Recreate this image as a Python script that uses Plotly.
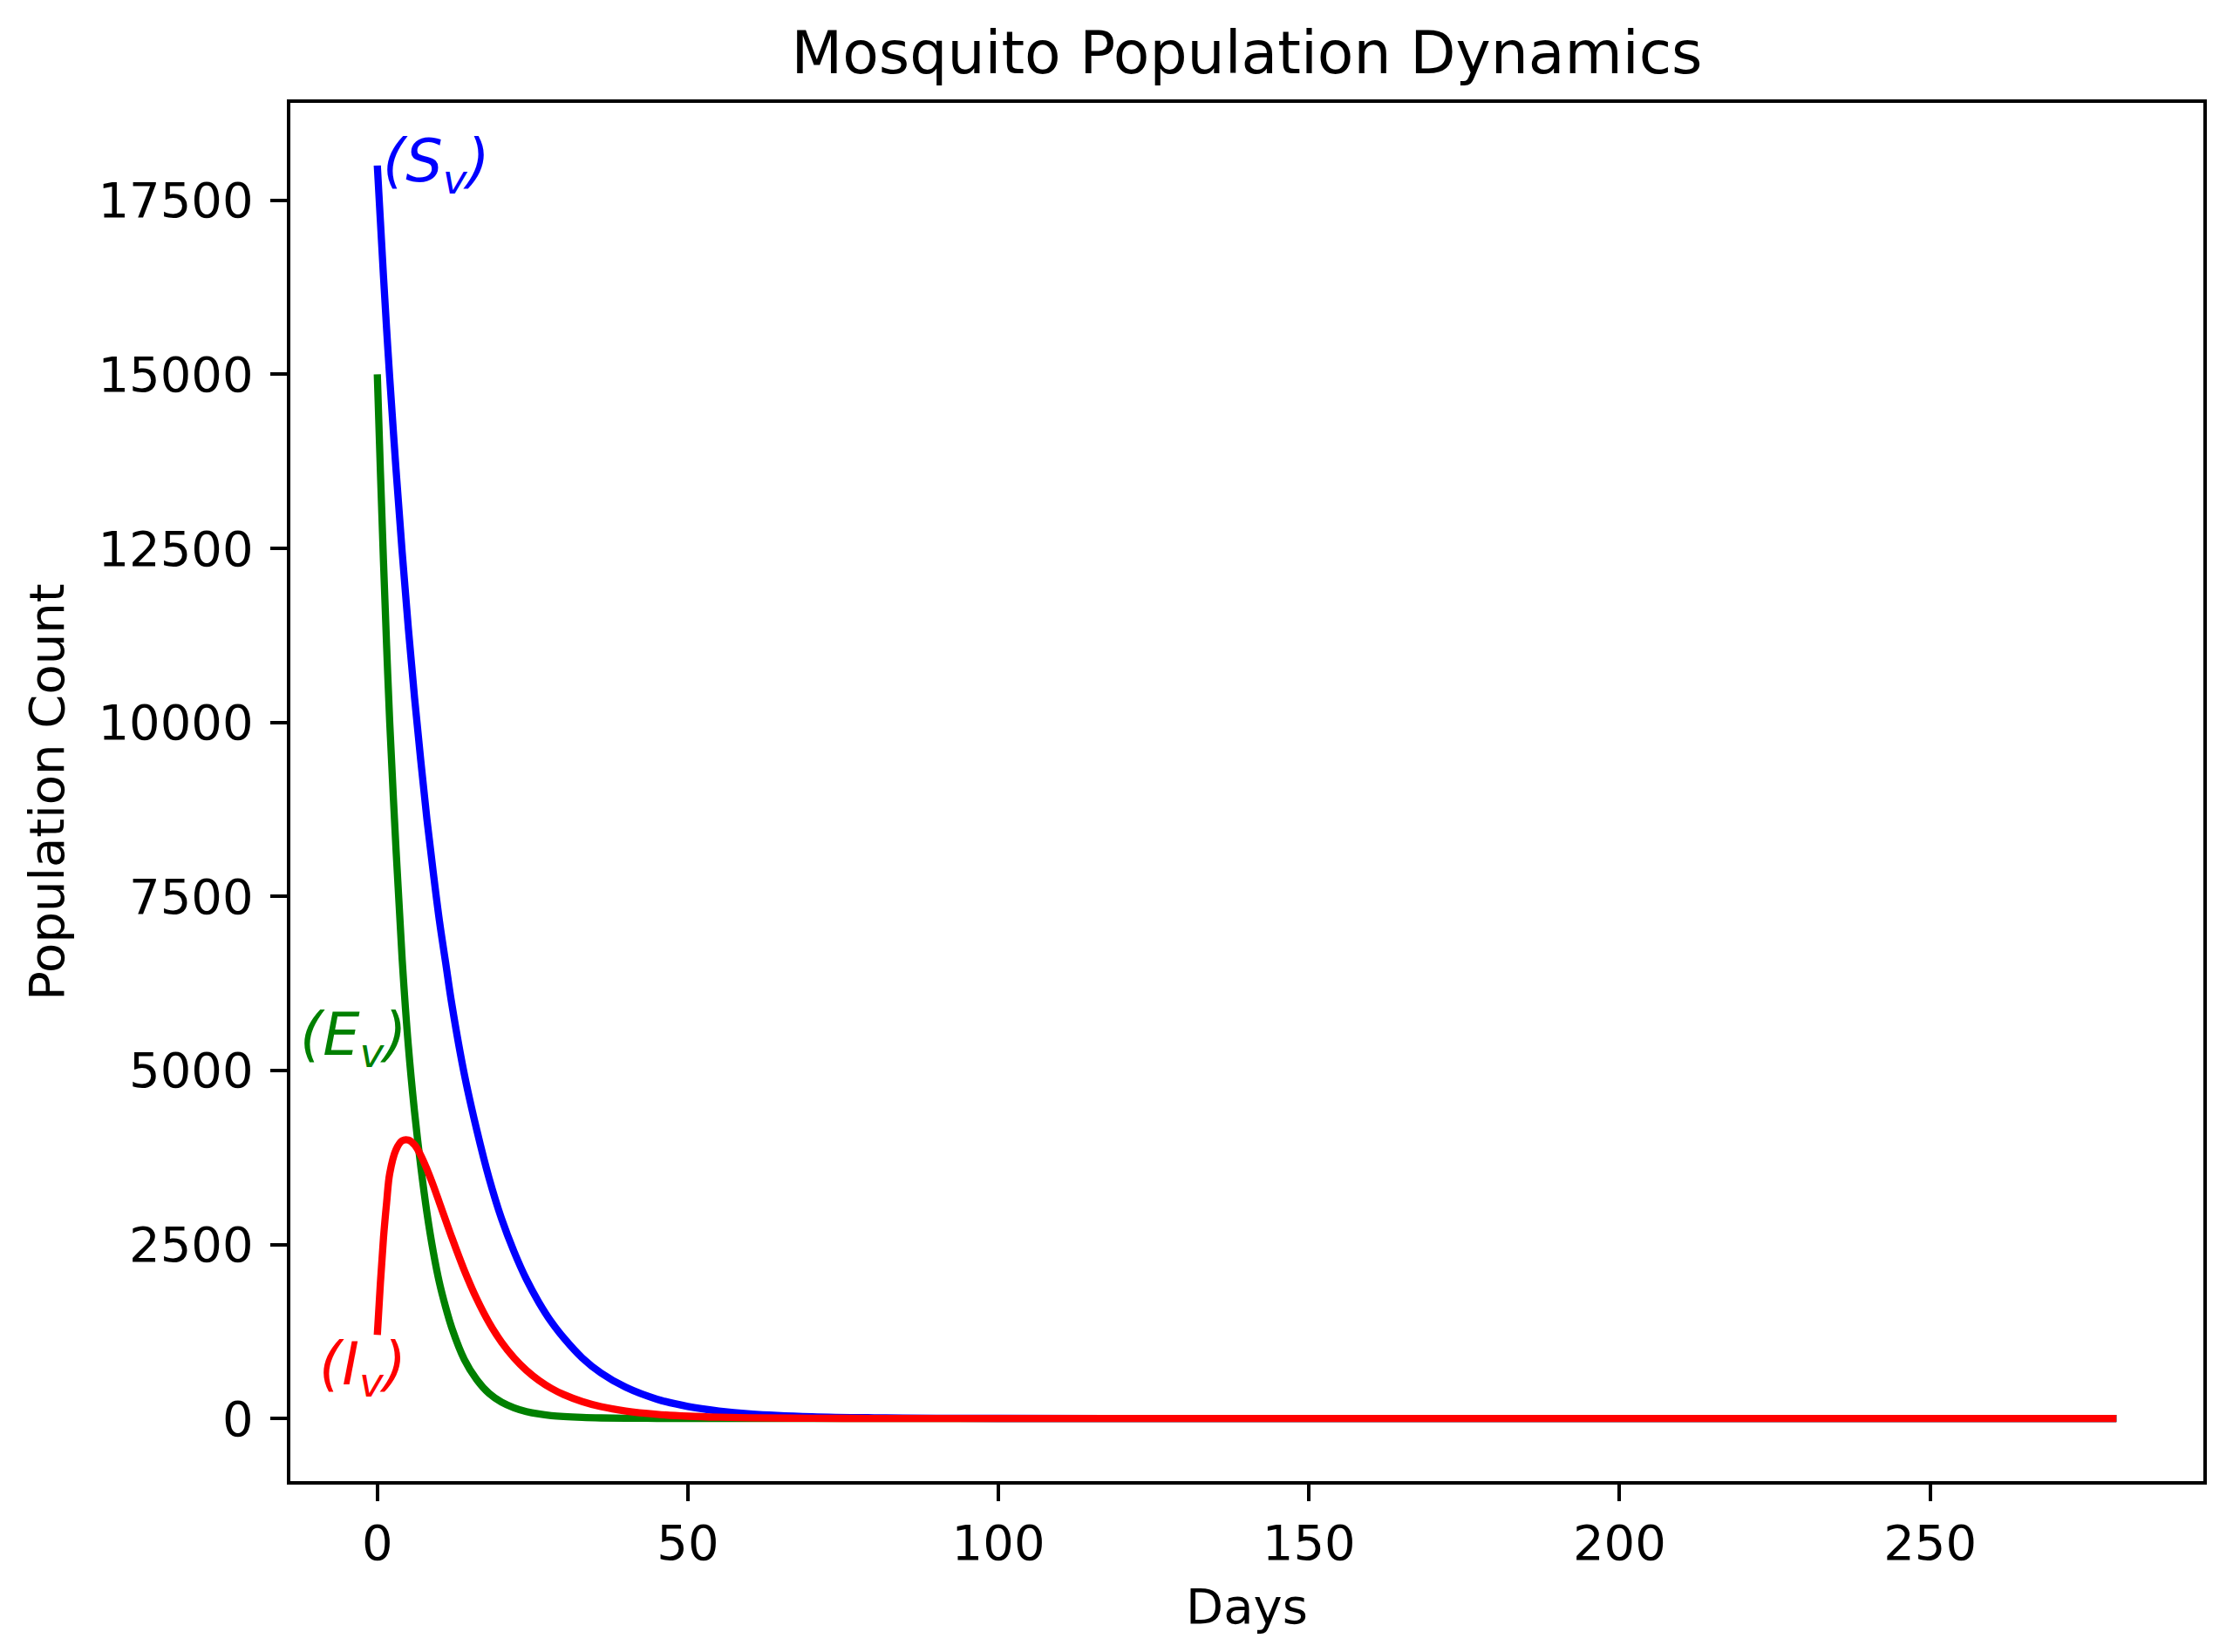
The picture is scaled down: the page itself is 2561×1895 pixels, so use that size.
import plotly.graph_objects as go

# ---- data ----
days = [0, 0.5, 1, 1.5, 2, 3, 4, 5, 6, 7, 8, 9, 10, 11, 12, 14, 16, 18, 20, 22,
        24, 26, 28, 30, 33, 36, 40, 45, 50, 55, 60, 70, 80, 90, 100, 120, 150,
        200, 250, 280]

s_v = [18000, 17200, 16400, 15650, 14950, 13650, 12450, 11350, 10350, 9450,
       8600, 7850, 7150, 6550, 5950, 4950, 4150, 3450, 2870, 2400,
       2000, 1670, 1390, 1160, 870, 655, 448, 278, 173, 108,
       67, 26, 10, 4, 1.5, 0.2, 0, 0, 0, 0]

e_v = [15000, 13600, 12300, 11100, 10000, 8200, 6600, 5350, 4400, 3620,
       2950, 2400, 1950, 1600, 1300, 850, 560, 360, 235, 155,
       100, 65, 42, 28, 15, 8, 4, 1.5, 0.6, 0.2,
       0, 0, 0, 0, 0, 0, 0, 0, 0, 0]

i_v = [1200, 1950, 2600, 3100, 3520, 3860, 3990, 4000, 3930, 3780,
       3580, 3350, 3100, 2850, 2600, 2130, 1720, 1376, 1096, 872,
       692, 548, 434, 344, 242, 170, 107, 60, 33, 18,
       10, 3, 1, 0.3, 0, 0, 0, 0, 0, 0]

series_names = ["S_v", "E_v", "I_v"]
series_colors = ["blue", "green", "red"]

x_ticks = [0, 50, 100, 150, 200, 250]
y_ticks = [0, 2500, 5000, 7500, 10000, 12500, 15000, 17500]

title_text = "Mosquito Population Dynamics"
x_title = "Days"
y_title = "Population Count"

FONT = "DejaVu Sans"

fig = go.Figure()
for name, vals, col in zip(series_names, [s_v, e_v, i_v], series_colors):
    fig.add_trace(go.Scatter(
        x=days, y=vals, mode="lines", name=name,
        line=dict(color=col, width=8.3, shape="spline", smoothing=1.0),
        showlegend=False, hoverinfo="x+y",
    ))

# curve labels
fig.add_annotation(x=0.6, y=18000, text="<i>(S<sub>v</sub>)</i>", showarrow=False,
                   xanchor="left", yanchor="middle",
                   font=dict(family=FONT, size=67, color="blue"))
fig.add_annotation(x=5, y=5450, text="<i>(E<sub>v</sub>)</i>", showarrow=False,
                   xanchor="right", yanchor="middle",
                   font=dict(family=FONT, size=67, color="green"))
fig.add_annotation(x=5, y=720, text="<i>(I<sub>v</sub>)</i>", showarrow=False,
                   xanchor="right", yanchor="middle",
                   font=dict(family=FONT, size=67, color="red"))

axis_common = dict(
    showline=True, linecolor="black", linewidth=4.4, mirror=True,
    ticks="outside", ticklen=19, tickwidth=4.4, tickcolor="black",
    showgrid=False, zeroline=False,
    tickfont=dict(family=FONT, size=56, color="black"),
)

fig.update_layout(
    width=2561, height=1895,
    margin=dict(l=333, r=34, t=118, b=196),
    paper_bgcolor="white", plot_bgcolor="white",
    font=dict(family=FONT, color="black"),
    title=dict(text=title_text, x=1430 / 2561, xanchor="center", y=1 - 84 / 1895,
               yanchor="bottom", font=dict(family=FONT, size=68, color="black")),
    xaxis=dict(range=[-14, 294], tickvals=x_ticks,
               ticktext=[str(v) for v in x_ticks],
               title=dict(text=x_title, standoff=22,
                          font=dict(family=FONT, size=56, color="black")),
               **axis_common),
    yaxis=dict(range=[-900, 18900], tickvals=y_ticks,
               ticktext=[str(v) for v in y_ticks],
               ticklabelstandoff=8,
               title=dict(text=y_title, standoff=22,
                          font=dict(family=FONT, size=56, color="black")),
               **axis_common),
)

fig.write_html("out.html", config={"displayModeBar": False},
               post_script="document.body.style.margin='0';document.body.style.overflow='hidden';")
